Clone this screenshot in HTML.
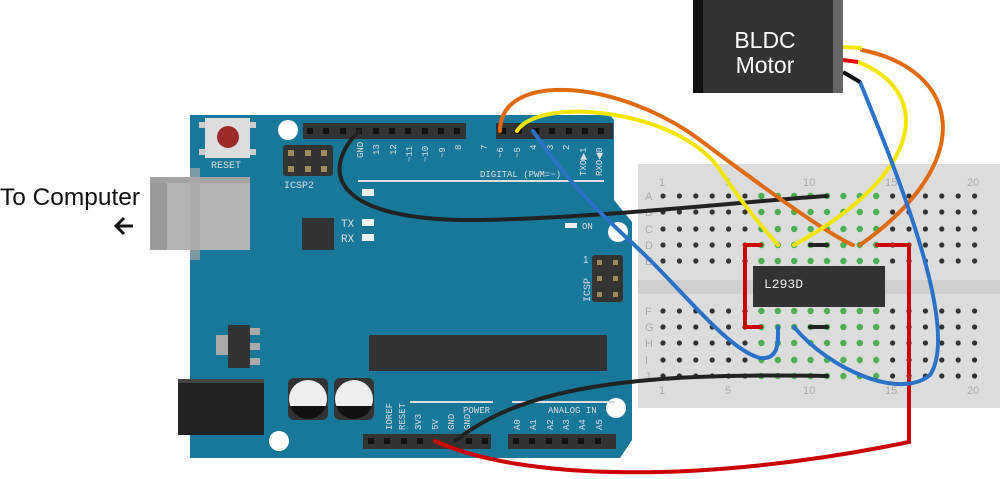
<!DOCTYPE html>
<html><head><meta charset="utf-8"><style>
html,body{margin:0;padding:0;background:#fff;}
svg{display:block;font-family:"Liberation Sans",sans-serif;}
</style></head><body>
<svg width="1000" height="479" viewBox="0 0 1000 479" xmlns="http://www.w3.org/2000/svg">
<text x="0" y="205" font-size="24" fill="#111" textLength="140" lengthAdjust="spacingAndGlyphs">To Computer</text>
<path d="M133,226 L117,226 M124,218 L116,226 L124,234" stroke="#111" stroke-width="3" fill="none"/>

<polygon points="190,115 610,115 614,120 614,200 632,222 632,440 620,458 190,458" fill="#17789a"/>
<rect x="150" y="177" width="100" height="73" fill="#b3b3b3"/>
<rect x="150" y="177" width="17" height="73" fill="#9a9a9a"/>
<rect x="150" y="177" width="100" height="6" fill="#a3a3a3"/>
<rect x="190" y="168" width="10" height="92" fill="#a8a8a8" opacity="0.7"/>
<rect x="205" y="118" width="45" height="40" fill="#ddd"/>
<rect x="199" y="122" width="6" height="6" fill="#ccc"/><rect x="250" y="122" width="6" height="6" fill="#ccc"/>
<rect x="199" y="149" width="6" height="6" fill="#ccc"/><rect x="250" y="149" width="6" height="6" fill="#ccc"/>
<circle cx="228" cy="137" r="11" fill="#9e2a2a"/>
<text x="211" y="168" font-size="10" fill="#ddd" font-family="Liberation Mono">RESET</text>
<circle cx="288" cy="130" r="10" fill="#fff"/>
<circle cx="279" cy="441" r="10" fill="#fff"/>
<circle cx="616" cy="408" r="10" fill="#fff"/>
<circle cx="618" cy="232" r="10" fill="#fff"/>
<rect x="283" y="145" width="50" height="31" rx="3" fill="#333"/>
<g fill="#a08a5a"><rect x="288" y="150" width="6" height="6"/><rect x="305" y="150" width="6" height="6"/><rect x="321" y="150" width="6" height="6"/><rect x="288" y="166" width="6" height="6"/><rect x="305" y="166" width="6" height="6"/><rect x="321" y="166" width="6" height="6"/></g>
<text x="284" y="188" font-size="10" fill="#ddd" font-family="Liberation Mono">ICSP2</text>
<rect x="303" y="123" width="163" height="16" fill="#333"/>
<rect x="496" y="123" width="117" height="16" fill="#333"/>
<g fill="#111">
<rect x="307" y="128" width="6" height="6"/><rect x="323" y="128" width="6" height="6"/><rect x="340" y="128" width="6" height="6"/><rect x="356" y="128" width="6" height="6"/><rect x="373" y="128" width="6" height="6"/><rect x="389" y="128" width="6" height="6"/><rect x="405" y="128" width="6" height="6"/><rect x="422" y="128" width="6" height="6"/><rect x="438" y="128" width="6" height="6"/><rect x="454" y="128" width="6" height="6"/>
<rect x="500" y="128" width="6" height="6"/><rect x="516" y="128" width="6" height="6"/><rect x="533" y="128" width="6" height="6"/><rect x="549" y="128" width="6" height="6"/><rect x="566" y="128" width="6" height="6"/><rect x="582" y="128" width="6" height="6"/><rect x="598" y="128" width="6" height="6"/>
</g>
<g font-size="9" fill="#ddd" font-family="Liberation Mono">
<text transform="translate(363,158) rotate(-90)">GND</text>
<text transform="translate(379,155) rotate(-90)">13</text>
<text transform="translate(396,155) rotate(-90)">12</text>
<text transform="translate(412,162) rotate(-90)">~11</text>
<text transform="translate(428,162) rotate(-90)">~10</text>
<text transform="translate(445,158) rotate(-90)">~9</text>
<text transform="translate(461,150) rotate(-90)">8</text>
<text transform="translate(487,150) rotate(-90)">7</text>
<text transform="translate(503,158) rotate(-90)">~6</text>
<text transform="translate(520,158) rotate(-90)">~5</text>
<text transform="translate(536,150) rotate(-90)">4</text>
<text transform="translate(553,150) rotate(-90)">3</text>
<text transform="translate(569,150) rotate(-90)">2</text>
<text transform="translate(586,176) rotate(-90)">TXO▶1</text>
<text transform="translate(602,176) rotate(-90)">RXO◀0</text>
<text x="480" y="177">DIGITAL (PWM=~)</text>
</g>
<rect x="358" y="180" width="246" height="2" fill="#ddd"/>
<rect x="362" y="189" width="12" height="7" fill="#eee"/>
<rect x="302" y="218" width="32" height="32" fill="#333"/>
<text x="341" y="227" font-size="11" fill="#ddd" font-family="Liberation Mono">TX</text>
<text x="341" y="242" font-size="11" fill="#ddd" font-family="Liberation Mono">RX</text>
<rect x="362" y="219" width="12" height="7" fill="#eee"/><rect x="362" y="234" width="12" height="7" fill="#eee"/>
<rect x="565" y="223" width="12" height="5" fill="#eee"/>
<text x="582" y="229" font-size="9" fill="#ddd" font-family="Liberation Mono">ON</text>
<rect x="592" y="255" width="31" height="47" rx="3" fill="#333"/>
<g fill="#a08a5a"><rect x="597" y="260" width="5" height="5"/><rect x="613" y="260" width="5" height="5"/><rect x="597" y="276" width="5" height="5"/><rect x="613" y="276" width="5" height="5"/><rect x="597" y="292" width="5" height="5"/><rect x="613" y="292" width="5" height="5"/></g>
<text transform="translate(590,302) rotate(-90)" font-size="10" fill="#ddd" font-family="Liberation Mono">ICSP</text>
<text x="583" y="263" font-size="10" fill="#ddd">1</text>
<rect x="216" y="335" width="14" height="20" fill="#aaa"/>
<rect x="228" y="325" width="22" height="43" fill="#333"/>
<rect x="250" y="328" width="10" height="7" fill="#aaa"/><rect x="250" y="343" width="10" height="7" fill="#aaa"/><rect x="250" y="358" width="10" height="7" fill="#aaa"/>
<rect x="369" y="335" width="238" height="36" fill="#333"/>
<rect x="178" y="379" width="86" height="56" fill="#222"/>
<rect x="178" y="379" width="86" height="4" fill="#444"/>
<rect x="288" y="378" width="40" height="42" rx="6" fill="#333"/>
<rect x="334" y="378" width="40" height="42" rx="6" fill="#333"/>
<circle cx="308" cy="399" r="19" fill="#eee"/><path d="M290,406 A19,19 0 0 0 326,406 Z" fill="#111"/>
<circle cx="354" cy="399" r="19" fill="#eee"/><path d="M336,406 A19,19 0 0 0 372,406 Z" fill="#111"/>
<rect x="410" y="401" width="83" height="2" fill="#ddd"/>
<rect x="512" y="401" width="103" height="2" fill="#ddd"/>
<g font-size="9" fill="#ddd" font-family="Liberation Mono">
<text x="463" y="413">POWER</text><text x="548" y="413">ANALOG IN</text>
<text transform="translate(392,430) rotate(-90)">IOREF</text>
<text transform="translate(405,430) rotate(-90)">RESET</text>
<text transform="translate(421,430) rotate(-90)">3V3</text>
<text transform="translate(438,430) rotate(-90)">5V</text>
<text transform="translate(454,430) rotate(-90)">GND</text>
<text transform="translate(470,430) rotate(-90)">GND</text>
<text transform="translate(520,430) rotate(-90)">A0</text>
<text transform="translate(536,430) rotate(-90)">A1</text>
<text transform="translate(553,430) rotate(-90)">A2</text>
<text transform="translate(569,430) rotate(-90)">A3</text>
<text transform="translate(585,430) rotate(-90)">A4</text>
<text transform="translate(602,430) rotate(-90)">A5</text>
</g>
<rect x="363" y="434" width="128" height="15" fill="#333"/>
<rect x="508" y="434" width="108" height="15" fill="#333"/>
<g fill="#111">
<rect x="368" y="438" width="6" height="6"/><rect x="384" y="438" width="6" height="6"/><rect x="401" y="438" width="6" height="6"/><rect x="417" y="438" width="6" height="6"/><rect x="466" y="438" width="6" height="6"/><rect x="482" y="438" width="6" height="6"/>
<rect x="513" y="438" width="6" height="6"/><rect x="529" y="438" width="6" height="6"/><rect x="546" y="438" width="6" height="6"/><rect x="562" y="438" width="6" height="6"/><rect x="578" y="438" width="6" height="6"/><rect x="595" y="438" width="6" height="6"/>
</g>

<rect x="638" y="164" width="362" height="244" fill="#dcdcdc"/>
<rect x="638" y="280" width="362" height="14" fill="#cfcfcf"/>
<g font-size="11" fill="#aaa">
<text x="659" y="186">1</text><text x="725" y="186">5</text><text x="803" y="186">10</text><text x="885" y="186">15</text><text x="967" y="186">20</text>
<text x="659" y="394">1</text><text x="725" y="394">5</text><text x="803" y="394">10</text><text x="885" y="394">15</text><text x="967" y="394">20</text>
<text x="645" y="200">A</text><text x="645" y="216">B</text><text x="645" y="233">C</text><text x="645" y="249">D</text><text x="645" y="265">E</text>
<text x="645" y="315">F</text><text x="645" y="331">G</text><text x="645" y="347">H</text><text x="645" y="364">I</text><text x="645" y="380">J</text>
</g>
<g id="holes"></g>
<rect x="753" y="266" width="132" height="41" fill="#333"/>
<text x="764" y="288" font-size="13" fill="#eee" font-family="Liberation Mono">L293D</text>

<g fill="none" stroke-linecap="round" stroke-width="4">
<path d="M435,441 C520,480 700,485 909,442 L909,245 L877,245" stroke="#c00"/>
<path d="M761,245 L745,245 L745,327 L761,327" stroke="#c00" />
<path d="M359,131 C320,170 330,222 480,220 C600,218 760,200 827,196" stroke="#222"/>
<path d="M455,441 C520,390 620,372 827,376" stroke="#222"/>
<path d="M810,245 L827,245 M810,327 L827,327" stroke="#222"/>
<path d="M500,131 C500,70 620,80 700,140 C780,200 830,235 853,245" stroke="#e06a10"/>
<path d="M862,50 C960,70 980,160 860,245" stroke="#e06a10"/>
<path d="M517,131 C540,95 680,110 720,170 C740,200 760,225 778,245" stroke="#f2e600"/>
<path d="M858,62 C930,90 930,170 794,245" stroke="#f2e600"/>
<path d="M533,131 C580,200 620,230 650,260 C690,300 730,350 760,358 C780,360 778,340 778,327" stroke="#2a72c8"/>
<path d="M860,82 C900,180 960,330 930,375 C900,400 830,370 794,327" stroke="#2a72c8"/>
</g>

<path d="M843,47 L862,48" stroke="#f2e600" stroke-width="4"/>
<path d="M843,60 L858,62" stroke="#e00" stroke-width="4"/>
<path d="M843,72 L860,82" stroke="#111" stroke-width="4"/>
<rect x="693" y="0" width="150" height="93" fill="#333"/>
<rect x="693" y="0" width="10" height="93" fill="#111"/>
<rect x="833" y="0" width="10" height="93" fill="#666"/>
<text x="765" y="48" font-size="23" fill="#fff" text-anchor="middle">BLDC</text>
<text x="765" y="73" font-size="23" fill="#fff" text-anchor="middle">Motor</text>
</svg>
<script>
(function(){
var g=document.getElementById('holes');var ns='http://www.w3.org/2000/svg';
var rows=[196,212,229,245,261,311,327,343,360,376];
for(var r=0;r<10;r++){for(var c=1;c<=20;c++){
var x=663+(c-1)*16.4;var e=document.createElementNS(ns,'circle');
e.setAttribute('cx',x);e.setAttribute('cy',rows[r]);
var green=(c>=7&&c<=14);
e.setAttribute('r',green?3.2:2.6);e.setAttribute('fill',green?'#4caf50':'#333');
g.appendChild(e);}}
})();
</script>
</body></html>
